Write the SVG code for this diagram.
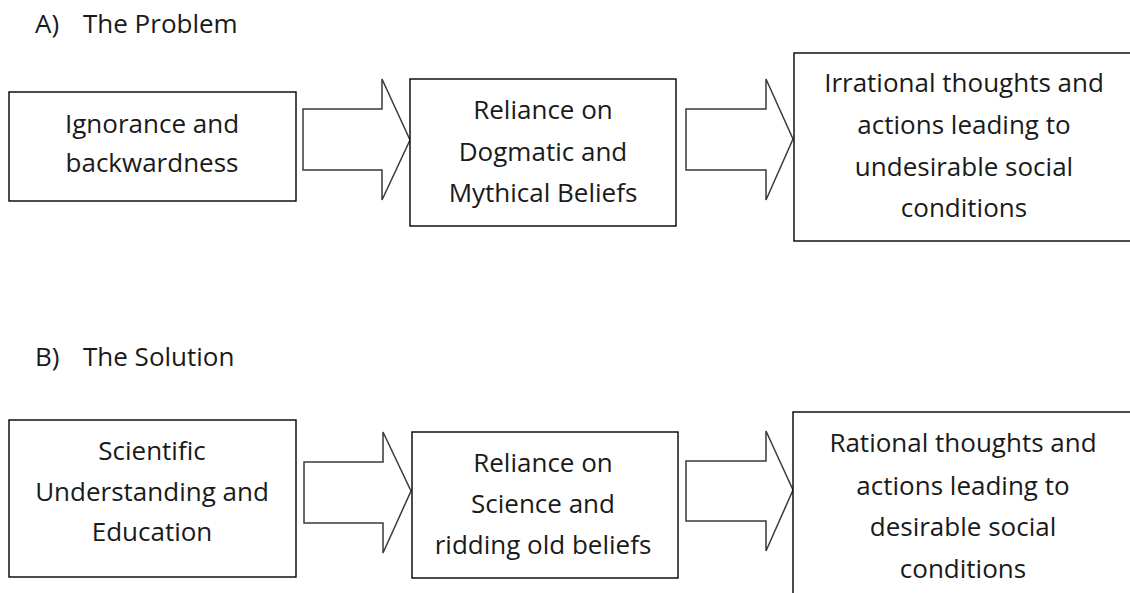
<svg xmlns="http://www.w3.org/2000/svg" width="1130" height="593" viewBox="0 0 1130 593">
<style>
.box{fill:#fff;stroke:#000;stroke-width:1.4}
.arr{fill:#fff;stroke:#3a3a3a;stroke-width:1.5;stroke-linejoin:miter}
.t{font-family:"Open Sans","Liberation Sans",sans-serif;font-size:26px;fill:#1a1a1a;text-anchor:middle}
.h{font-family:"Open Sans","Liberation Sans",sans-serif;font-size:26px;fill:#1a1a1a}
</style>
<rect width="1130" height="593" fill="#fff"/>
<g id="headerA"><text class="h" x="35" y="33">A)</text><text class="h" x="83" y="33">The Problem</text></g>
<g id="headerB"><text class="h" x="35" y="366">B)</text><text class="h" x="83" y="366">The Solution</text></g>
<g id="connectors">
<path class="arr" d="M303,109 H382 V79 L410,140 L382,200 V170 H303 Z"/>
<path class="arr" d="M686,109 H766 V79 L793,139 L766,200 V170 H686 Z"/>
<path class="arr" d="M304,462 H383 V432 L411,491 L383,553 V523 H304 Z"/>
<path class="arr" d="M686,461 H766 V431 L793,490 L766,551 V521 H686 Z"/>
</g>
<g id="n1"><rect class="box" x="9" y="92" width="287" height="109"/>
<text class="t" x="152" y="133">Ignorance and</text><text class="t" x="152" y="172">backwardness</text></g>
<g id="n2"><rect class="box" x="410" y="79" width="266" height="147"/>
<text class="t" x="543" y="119">Reliance on</text><text class="t" x="543" y="161">Dogmatic and</text><text class="t" x="543" y="202">Mythical Beliefs</text></g>
<g id="n3"><rect class="box" x="794" y="53" width="345" height="188"/>
<text class="t" x="964" y="92">Irrational thoughts and</text><text class="t" x="964" y="134">actions leading to</text><text class="t" x="964" y="176">undesirable social</text><text class="t" x="964" y="217">conditions</text></g>
<g id="n4"><rect class="box" x="9" y="420" width="287" height="157"/>
<text class="t" x="152" y="460">Scientific</text><text class="t" x="152" y="501">Understanding and</text><text class="t" x="152" y="541">Education</text></g>
<g id="n5"><rect class="box" x="412" y="432" width="266" height="146"/>
<text class="t" x="543" y="472">Reliance on</text><text class="t" x="543" y="513">Science and</text><text class="t" x="543" y="554">ridding old beliefs</text></g>
<g id="n6"><rect class="box" x="793" y="412" width="346" height="200"/>
<text class="t" x="963" y="452">Rational thoughts and</text><text class="t" x="963" y="495">actions leading to</text><text class="t" x="963" y="536">desirable social</text><text class="t" x="963" y="578">conditions</text></g>
</svg>
